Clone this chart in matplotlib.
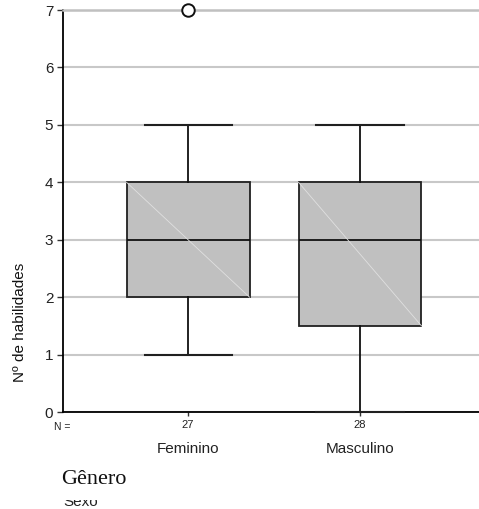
import matplotlib
matplotlib.use("Agg")
import matplotlib.pyplot as plt
from matplotlib.patches import Rectangle

# values
groups = ["Feminino", "Masculino"]
counts = [27, 28]
q1 = [2.0, 1.5]
medians = [3.0, 3.0]
q3 = [4.0, 4.0]
whisker_low = [1.0, 0.0]
whisker_high = [5.0, 5.0]
outliers = [[7.0], []]
y_ticks = [0, 1, 2, 3, 4, 5, 6, 7]

W, H = 479, 509
plt.rcParams["font.family"] = ["Liberation Sans", "DejaVu Sans"]

fig = plt.figure(figsize=(W / 100, H / 100), dpi=100)
ax = fig.add_axes([63 / W, (H - 412) / H, (W - 63) / W, 402 / H])


def fx(px):
    return px / W


def fy(py):
    return (H - py) / H


positions = [1, 2]
stats = [
    dict(med=m, q1=a, q3=b, whislo=lo, whishi=hi, fliers=f, label=g)
    for g, m, a, b, lo, hi, f in zip(groups, medians, q1, q3, whisker_low,
                                     whisker_high, outliers)
]

box_w = 0.715
ax.bxp(
    stats,
    positions=positions,
    widths=box_w,
    patch_artist=True,
    showfliers=True,
    boxprops=dict(facecolor="#c0c0c0", edgecolor="#202020", linewidth=1.3),
    medianprops=dict(color="#101010", linewidth=1.3),
    whiskerprops=dict(color="#101010", linewidth=1.3),
    capprops=dict(color="#202020", linewidth=1.5),
    capwidths=0.506,
    flierprops=dict(marker="o", markersize=9, markerfacecolor="white",
                    markeredgecolor="#101010", markeredgewidth=1.4),
    zorder=3,
)
for line in ax.lines:
    line.set_clip_on(False)

# faint diagonal artefact across each box
for x, a, b in zip(positions, q1, q3):
    ax.plot([x - box_w / 2, x + box_w / 2], [b, a], color="#e0e0e0",
            linewidth=0.6, zorder=4)

ax.set_xlim(0.273, 2.692)
ax.set_ylim(0, 7)
ax.set_yticks(y_ticks)
ax.set_yticklabels([str(v) for v in y_ticks], fontsize=11, color="#222222")
ax.set_xticks(positions)
ax.set_xticklabels([str(c) for c in counts], fontsize=8, color="#222222")
ax.tick_params(axis="y", length=4, width=1, pad=3, color="#333333")
ax.tick_params(axis="x", length=3, width=1, pad=3, color="#333333")

ax.grid(axis="y", color="#c8c8c8", linewidth=1.5, zorder=0)
ax.set_axisbelow(True)
ax.spines["right"].set_visible(False)
ax.spines["top"].set_color("#c0c0c0")
ax.spines["top"].set_linewidth(1.8)
ax.spines["left"].set_linewidth(1.3)
ax.spines["bottom"].set_linewidth(1.3)

fig.text(fx(62), fy(427), "N =", fontsize=7.5, ha="center", va="center",
         color="#222222")
for x, g in zip(positions, groups):
    px = 63 + (x - 0.273) / (2.692 - 0.273) * (W - 63)
    fig.text(fx(px), fy(449), g, fontsize=11, ha="center", va="center",
             color="#222222")

fig.text(fx(20), fy(322), "Nº de habilidades", fontsize=11, rotation=90,
         ha="center", va="center", color="#111111")

# "Sexo" sits under the "Gênero" label, which hides its upper part
fig.text(fx(63), fy(506), "Sexo", fontsize=11, ha="left", va="baseline",
         color="#222222")
fig.patches.append(Rectangle((fx(55), fy(500)), fx(90), (500 - 460) / H,
                             transform=fig.transFigure, facecolor="white",
                             edgecolor="none", zorder=5))
fig.text(fx(61), fy(480), "Gênero", fontsize=16, ha="left", va="center",
         family=["Liberation Serif", "DejaVu Serif"], color="#111111",
         zorder=6)

fig.savefig("out.png", dpi=100)
